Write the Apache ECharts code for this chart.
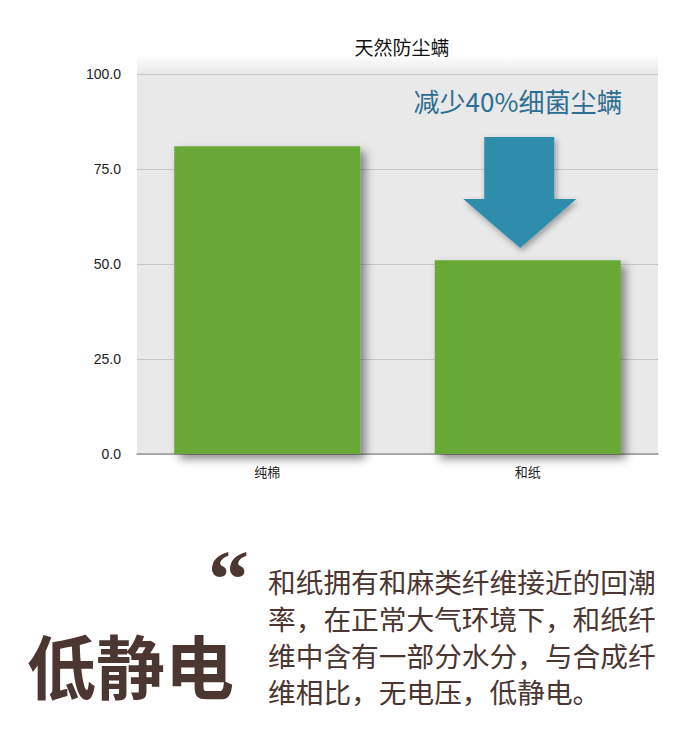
<!DOCTYPE html>
<html lang="zh">
<head>
    <meta charset="UTF-8">
    <title>天然防尘螨</title>
    <script src="https://cdn.jsdelivr.net/npm/echarts@6/dist/echarts.min.js"></script>
    <style>
        html, body { margin: 0; padding: 0; background: #fff; }
        #chart { width: 700px; height: 740px; }
    </style>
</head>
<body>
<div id="chart"></div>
<script>
    // 数据
    var categories = ['纯棉', '和纸'];
    var values = [81, 51];
    var yMin = 0, yMax = 100, yStep = 25;

    var note = '减少40%细菌尘螨';
    var headline = '低静电';
    var bodyLines = [
        '和纸拥有和麻类纤维接近的回潮',
        '率，在正常大气环境下，和纸纤',
        '维中含有一部分水分，与合成纤',
        '维相比，无电压，低静电。'
    ];

    var brown = '#4b3632';
    var cjk = '"Noto Sans CJK SC", "Liberation Sans", sans-serif';

    var chart = echarts.init(document.getElementById('chart'), null, {renderer: 'svg'});
    chart.setOption({
        animation: false,
        title: {
            text: '天然防尘螨',
            left: 397,
            top: 32,
            textAlign: 'center',
            textStyle: {fontSize: 19, fontWeight: 'normal', color: '#111', fontFamily: cjk}
        },
        grid: {
            left: 137, right: 42, top: 74, bottom: 286,
            show: true, backgroundColor: '#e9e9e9', borderWidth: 0
        },
        xAxis: {
            type: 'category',
            data: categories,
            axisTick: {show: false},
            axisLine: {lineStyle: {color: '#9a9a9a', width: 1.5}},
            axisLabel: {color: '#222', fontSize: 13, margin: 11, fontFamily: cjk}
        },
        yAxis: {
            type: 'value',
            min: yMin, max: yMax, interval: yStep,
            axisLine: {show: false},
            axisTick: {show: false},
            splitLine: {lineStyle: {color: '#c6c6c6', width: 1}},
            axisLabel: {
                color: '#222', fontSize: 14, margin: 16,
                fontFamily: '"Liberation Sans", Arial, sans-serif',
                formatter: function (v) { return v.toFixed(1); }
            }
        },
        series: [{
            type: 'bar',
            data: values,
            barCategoryGap: '28.6%',
            itemStyle: {
                color: '#67a934',
                shadowColor: 'rgba(0,0,0,0.45)',
                shadowBlur: 10,
                shadowOffsetX: 5,
                shadowOffsetY: 5
            },
            markPoint: {
                silent: true,
                data: [{
                    coord: [categories[1], 68.8],
                    symbol: 'path://M21,0 L91,0 L91,62 L113,62 L57,111 L0,62 L21,62 Z',
                    symbolSize: [113, 111],
                    symbolOffset: [-8, 0],
                    itemStyle: {
                        color: '#2f8dab',
                        shadowColor: 'rgba(0,0,0,0.35)',
                        shadowBlur: 6,
                        shadowOffsetX: 2,
                        shadowOffsetY: 3
                    },
                    label: {show: false}
                }]
            }
        }],
        graphic: [
            {
                type: 'rect',
                shape: {x: 137, y: 54, width: 521, height: 20},
                silent: true,
                style: {
                    fill: new echarts.graphic.LinearGradient(0, 0, 0, 1, [
                        {offset: 0, color: '#ffffff'},
                        {offset: 1, color: '#e9e9e9'}
                    ])
                },
                z: -1
            },
            {
                type: 'text',
                x: 518, y: 100,
                style: {
                    text: note,
                    fill: '#2d6e93',
                    font: '26px ' + cjk,
                    textAlign: 'center',
                    textVerticalAlign: 'middle'
                }
            },
            {
                type: 'text',
                x: 208, y: 538,
                style: {
                    text: '\u201c',
                    fill: brown,
                    font: 'bold 82px "Liberation Serif", serif',
                    textAlign: 'left',
                    textVerticalAlign: 'top'
                }
            },
            {
                type: 'text',
                x: 27, y: 664,
                style: {
                    text: headline,
                    fill: brown,
                    font: 'bold 69px ' + cjk,
                    textAlign: 'left',
                    textVerticalAlign: 'middle'
                }
            },
            {
                type: 'text',
                x: 268, y: 563,
                style: {
                    text: bodyLines.join('\n'),
                    fill: brown,
                    font: '27.7px ' + cjk,
                    lineHeight: 36.7,
                    textAlign: 'left',
                    textVerticalAlign: 'top'
                }
            }
        ]
    });
</script>
</body>
</html>
